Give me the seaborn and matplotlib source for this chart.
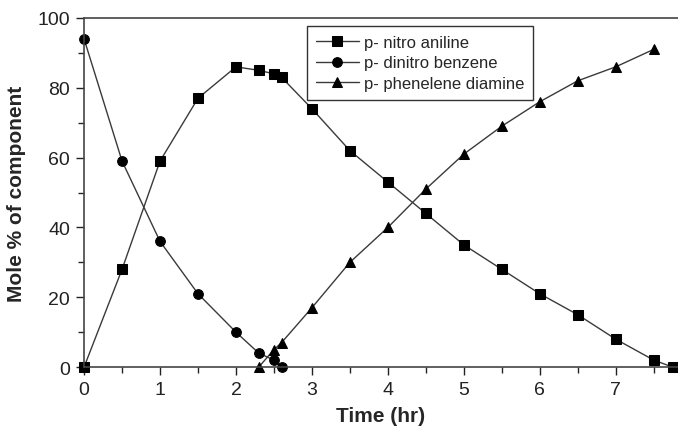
import pandas as pd
import matplotlib.pyplot as plt
import seaborn as sns
from matplotlib.ticker import MultipleLocator

# ----------------------------
# Data
# ----------------------------
t_nitro = [0, 0.5, 1, 1.5, 2, 2.3, 2.5, 2.6, 3, 3.5, 4, 4.5, 5, 5.5, 6, 6.5, 7, 7.5, 7.75]
nitro = [0, 28, 59, 77, 86, 85, 84, 83, 74, 62, 53, 44, 35, 28, 21, 15, 8, 2, 0]

t_dinitro = [0, 0.5, 1, 1.5, 2, 2.3, 2.5, 2.6]
dinitro = [94, 59, 36, 21, 10, 4, 2, 0]

t_diamine = [2.3, 2.5, 2.6, 3, 3.5, 4, 4.5, 5, 5.5, 6, 6.5, 7, 7.5]
diamine = [0, 5, 7, 17, 30, 40, 51, 61, 69, 76, 82, 86, 91]

labels = ["p- nitro aniline", "p- dinitro benzene", "p- phenelene diamine"]

sns.set_style("ticks")
plt.rcParams["font.family"] = ["Liberation Sans", "DejaVu Sans"]

fig = plt.figure(figsize=(6.78, 4.31), dpi=100)
ax = fig.add_axes([0.124, 0.146, 0.876, 0.81])

series = [(t_nitro, nitro, "s"), (t_dinitro, dinitro, "o"), (t_diamine, diamine, "^")]
for (t, v, m), lab in zip(series, labels):
    df = pd.DataFrame({"Time": t, "Mole": v})
    sns.lineplot(data=df, x="Time", y="Mole", ax=ax, label=lab, sort=False,
                 color="#3a3a3a", lw=1.0, marker=m, markersize=7,
                 markerfacecolor="black", markeredgecolor="black", clip_on=False)

ax.set_xlim(0, 7.82)
ax.set_ylim(0, 100)
ax.xaxis.set_major_locator(MultipleLocator(1))
ax.xaxis.set_minor_locator(MultipleLocator(0.5))
ax.yaxis.set_major_locator(MultipleLocator(20))
ax.yaxis.set_minor_locator(MultipleLocator(10))
ax.tick_params(which="major", direction="out", length=6, width=1, labelsize=14,
               colors="#222222", pad=4)
ax.tick_params(which="minor", direction="out", length=4, width=1)

for s in ["left", "bottom", "top"]:
    ax.spines[s].set_color("#444444")
    ax.spines[s].set_linewidth(1.2)
ax.spines["right"].set_visible(False)

ax.set_xlabel("Time (hr)", fontsize=15, fontweight="bold", labelpad=6)
ax.set_ylabel("Mole % of component", fontsize=15, fontweight="bold", labelpad=8)

leg = ax.legend(loc="upper left", bbox_to_anchor=(0.362, 1.0), fontsize=12,
                frameon=True, fancybox=False, handlelength=2.6, borderpad=0.5,
                labelspacing=0.35, handletextpad=0.3)
leg.get_frame().set_edgecolor("black")
leg.get_frame().set_linewidth(1.0)

plt.savefig("out.png", dpi=100)
